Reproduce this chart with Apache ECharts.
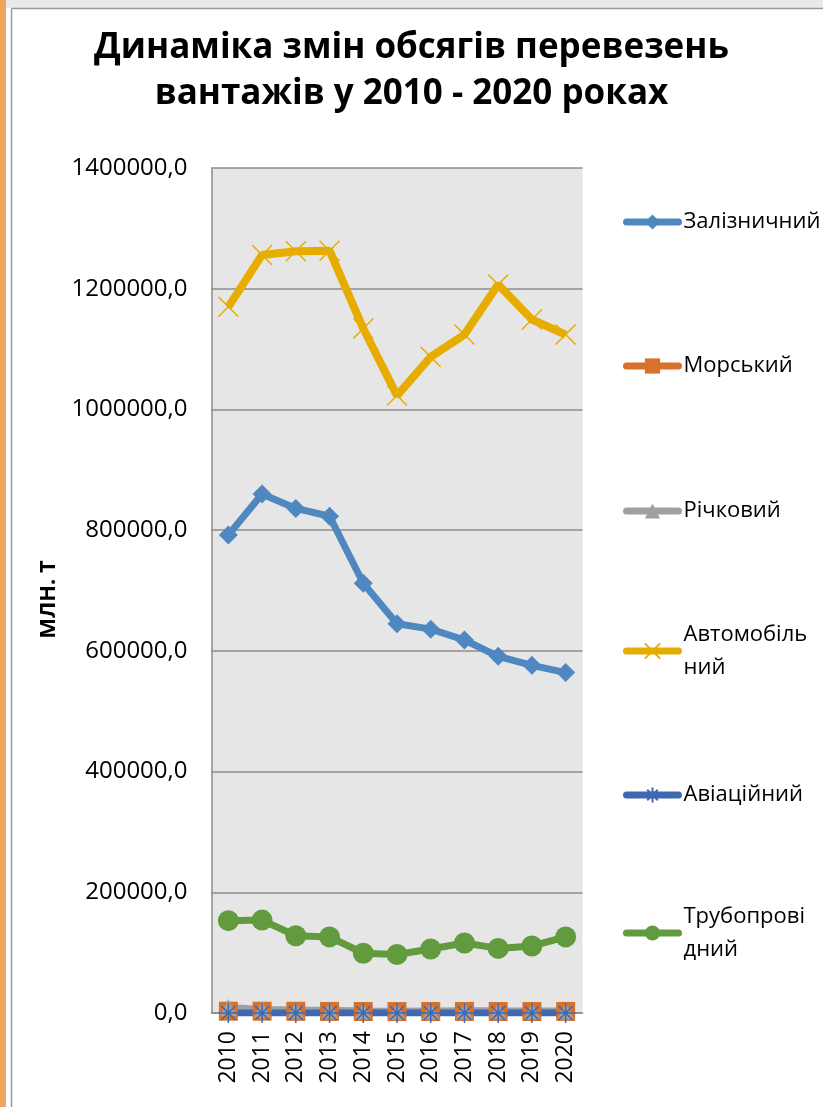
<!DOCTYPE html>
<html>
<head>
<meta charset="utf-8">
<title>Динаміка змін обсягів перевезень</title>
<script src="https://cdn.jsdelivr.net/npm/echarts@6/dist/echarts.min.js"></script>
<style>
  html, body { margin: 0; padding: 0; background: #fff; }
  #chart { width: 823px; height: 1107px; }
</style>
</head>
<body>
<div id="chart"></div>
<script>
// роки
const years = ['2010', '2011', '2012', '2013', '2014', '2015', '2016', '2017', '2018', '2019', '2020'];

// обсяги перевезень, млн. т
const railway  = [792000, 860000, 836000, 823000, 712000, 645000, 636000, 618000, 591000, 576000, 564000];
const sea      = [3000, 3000, 2800, 2600, 2500, 2400, 2500, 2600, 2500, 2500, 2600];
const river    = [9000, 6000, 5000, 4500, 3500, 3000, 3500, 3800, 3600, 3500, 3400];
const road     = [1170000, 1256000, 1262000, 1263000, 1134000, 1023000, 1087000, 1124000, 1207000, 1149000, 1124000];
const aviation = [100, 100, 90, 90, 80, 70, 80, 90, 100, 90, 80];
const pipeline = [153000, 154000, 128000, 126000, 99000, 97000, 106000, 116000, 107000, 111000, 126000];

const seriesNames = ['Залізничний', 'Морський', 'Річковий', 'Автомобільний', 'Авіаційний', 'Трубопровідний'];
const legendLabels = ['Залізничний', 'Морський', 'Річковий', 'Автомобіль\nний', 'Авіаційний', 'Трубопрові\nдний'];

const FONT = "'Open Sans', 'Noto Sans', sans-serif";

const chart = echarts.init(document.getElementById('chart'));

// позиції легенди (центр першого рядка)
const legendY = [222, 366, 511, 651, 795, 933];

const legends = seriesNames.map((name, i) => {
  const twoLines = legendLabels[i].indexOf('\n') >= 0;
  return {
    data: [name],
    left: 623,
    top: twoLines ? legendY[i] - 49.5 : legendY[i] - 16.5,
    orient: 'vertical',
    padding: 0,
    itemWidth: 52,
    itemHeight: 19,
    selectedMode: false,
    lineStyle: { width: 7, cap: 'round' },
    formatter: () => legendLabels[i],
    textStyle: {
      fontFamily: FONT,
      fontSize: 22,
      color: '#000',
      lineHeight: 33,
      padding: twoLines ? [33, 0, 0, 0] : 0
    }
  };
});

const option = {
  backgroundColor: '#fff',
  animation: false,
  title: {
    text: 'Динаміка змін обсягів перевезень\nвантажів у 2010 - 2020 роках',
    left: 'center',
    top: 25,
    padding: [0, 0, 0, 11],
    textStyle: {
      fontFamily: FONT,
      fontWeight: 'bold',
      fontSize: 35,
      lineHeight: 46,
      color: '#000'
    }
  },
  legend: legends,
  grid: {
    left: 211.5,
    right: 240.5,
    top: 168,
    bottom: 94,
    show: true,
    backgroundColor: '#e6e6e6',
    borderWidth: 0
  },
  xAxis: {
    type: 'category',
    data: years,
    boundaryGap: true,
    axisLine: { lineStyle: { color: '#8c8c8c', width: 1.5 } },
    axisTick: { show: false },
    axisLabel: {
      rotate: 90,
      margin: 18,
      fontFamily: FONT,
      fontSize: 23,
      color: '#000'
    }
  },
  yAxis: {
    type: 'value',
    min: 0,
    max: 1400000,
    interval: 200000,
    name: 'МЛН. Т',
    nameLocation: 'middle',
    nameGap: 152,
    nameTextStyle: {
      fontFamily: FONT,
      fontWeight: 'bold',
      fontSize: 22,
      color: '#000',
      padding: [0, 18, 0, 0]
    },
    axisLine: { show: true, lineStyle: { color: '#8c8c8c', width: 1.5 } },
    axisTick: { show: false },
    splitLine: { lineStyle: { color: '#8c8c8c', width: 1.5 } },
    axisLabel: {
      margin: 24,
      fontFamily: FONT,
      fontSize: 24,
      color: '#000',
      formatter: v => v.toFixed(1).replace('.', ',')
    }
  },
  series: [
    {
      name: seriesNames[0], type: 'line', data: railway,
      symbol: 'diamond', symbolSize: 19,
      lineStyle: { color: '#4f87c0', width: 7 },
      itemStyle: { color: '#4f87c0' }
    },
    {
      name: seriesNames[1], type: 'line', data: sea,
      symbol: 'rect', symbolSize: 19,
      lineStyle: { color: '#d9712b', width: 7 },
      itemStyle: { color: '#d9712b' }
    },
    {
      name: seriesNames[2], type: 'line', data: river,
      symbol: 'triangle', symbolSize: 17,
      lineStyle: { color: '#a0a0a0', width: 7 },
      itemStyle: { color: '#a0a0a0' }
    },
    {
      name: seriesNames[3], type: 'line', data: road,
      symbol: 'path://M0 0L20 20M20 0L0 20', symbolSize: 20,
      lineStyle: { color: '#e6ad00', width: 8 },
      itemStyle: { color: 'rgba(0,0,0,0)', borderColor: '#e6ad00', borderWidth: 1.5 }
    },
    {
      name: seriesNames[4], type: 'line', data: aviation,
      symbol: 'path://M10 0L10 20M0 10L20 10M3 3L17 17M17 3L3 17', symbolSize: 20,
      lineStyle: { color: '#3e68b2', width: 7 },
      itemStyle: { color: 'rgba(0,0,0,0)', borderColor: '#3e68b2', borderWidth: 1.5 }
    },
    {
      name: seriesNames[5], type: 'line', data: pipeline,
      symbol: 'circle', symbolSize: 21,
      lineStyle: { color: '#619b3e', width: 7 },
      itemStyle: { color: '#619b3e' }
    }
  ],
  graphic: [
    // рамка області діаграми
    { type: 'rect', left: 0, top: 0, shape: { width: 823, height: 8 }, style: { fill: '#e9e9e9' }, silent: true },
    { type: 'rect', left: 0, top: 0, shape: { width: 6, height: 1107 }, style: { fill: '#f0a45c' }, silent: true },
    { type: 'line', shape: { x1: 11.5, y1: 8.5, x2: 823, y2: 8.5 }, style: { stroke: '#9a9a9a', lineWidth: 1.5 }, silent: true },
    { type: 'line', shape: { x1: 11.5, y1: 8.5, x2: 11.5, y2: 1107 }, style: { stroke: '#9a9a9a', lineWidth: 1.5 }, silent: true }
  ]
};

chart.setOption(option);
</script>
</body>
</html>
